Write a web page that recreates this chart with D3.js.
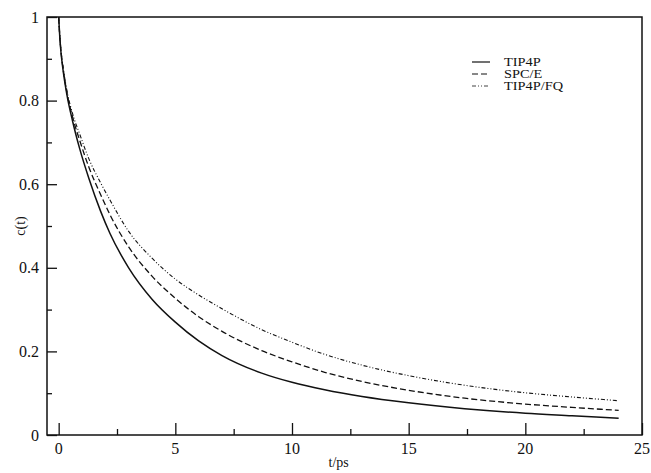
<!DOCTYPE html>
<html>
<head>
<meta charset="utf-8">
<script src="https://cdn.jsdelivr.net/npm/d3@7"></script>
<style>
  body { margin: 0; background: #fff; }
  svg { display: block; }
  text { font-family: "Liberation Serif", "DejaVu Serif", serif; fill: #111; }
</style>
</head>
<body>
<script>
// basic setup
const width = 651;
const height = 473;
const marginTop = 17;
const marginBottom = 38;
const marginLeft = 47;
const marginRight = 9;

// time axis (ps) shared by all curves
const times = [0, 0.05, 0.1, 0.2, 0.35, 0.6, 0.9, 1.3, 1.8, 2.2, 3, 4, 5, 6, 7, 8.7, 10, 11.4, 13, 15, 17.4, 20, 22, 24];

const tip4p = [1, 0.95, 0.915, 0.868, 0.815, 0.75, 0.685, 0.613, 0.535, 0.482, 0.40, 0.325, 0.27, 0.225, 0.19, 0.148, 0.126, 0.108, 0.092, 0.077, 0.063, 0.052, 0.046, 0.040];
const spce = [1, 0.952, 0.918, 0.872, 0.82, 0.76, 0.705, 0.64, 0.575, 0.527, 0.45, 0.38, 0.327, 0.283, 0.248, 0.202, 0.175, 0.15, 0.128, 0.107, 0.088, 0.074, 0.066, 0.059];
const tip4pfq = [1, 0.953, 0.92, 0.876, 0.825, 0.768, 0.72, 0.66, 0.603, 0.562, 0.487, 0.423, 0.373, 0.335, 0.302, 0.252, 0.222, 0.193, 0.167, 0.142, 0.119, 0.101, 0.091, 0.082];

const seriesNames = ['TIP4P', 'SPC/E', 'TIP4P/FQ'];
const seriesValues = [tip4p, spce, tip4pfq];
const dashes = [null, '6,3', '4,2,1,2,1,2'];
const widths = [1.5, 1.3, 1.1];

const xTicks = [0, 5, 10, 15, 20, 25];
const xMinor = [2.5, 7.5, 12.5, 17.5, 22.5];
const yTicks = [0, 0.2, 0.4, 0.6, 0.8, 1];
const yMinor = [0.1, 0.3, 0.5, 0.7, 0.9];

const svg = d3.select('body')
  .append('svg')
  .attr('width', width)
  .attr('height', height);

const x = d3.scaleLinear()
  .domain([-0.5, 25])
  .range([marginLeft, width - marginRight]);

const y = d3.scaleLinear()
  .domain([0, 1])
  .range([height - marginBottom, marginTop]);

// frame
svg.append('rect')
  .attr('x', marginLeft)
  .attr('y', marginTop)
  .attr('width', width - marginRight - marginLeft)
  .attr('height', height - marginBottom - marginTop)
  .attr('fill', 'none')
  .attr('stroke', '#111')
  .attr('stroke-width', 1.5);

// x axis (ticks point inward)
const xAxis = svg.append('g')
  .attr('transform', `translate(0,${height - marginBottom})`);
xAxis.call(d3.axisTop(x).tickValues(xTicks).tickSize(12).tickFormat(''))
  .call(g => g.select('.domain').remove());
xAxis.append('g')
  .call(d3.axisTop(x).tickValues(xMinor).tickSize(6).tickFormat(''))
  .call(g => g.select('.domain').remove());
xAxis.selectAll('line').attr('stroke', '#111').attr('stroke-width', 1.3);
xAxis.selectAll('.xlab')
  .data(xTicks)
  .enter().append('text')
  .attr('class', 'xlab')
  .attr('x', d => x(d))
  .attr('y', 19)
  .attr('text-anchor', 'middle')
  .attr('font-size', 16)
  .text(d => d);

// y axis
const yAxis = svg.append('g')
  .attr('transform', `translate(${marginLeft},0)`);
yAxis.call(d3.axisRight(y).tickValues(yTicks).tickSize(10).tickFormat(''))
  .call(g => g.select('.domain').remove());
yAxis.append('g')
  .call(d3.axisRight(y).tickValues(yMinor).tickSize(5).tickFormat(''))
  .call(g => g.select('.domain').remove());
yAxis.selectAll('line').attr('stroke', '#111').attr('stroke-width', 1.3);
yAxis.selectAll('.ylab')
  .data(yTicks)
  .enter().append('text')
  .attr('class', 'ylab')
  .attr('x', -8)
  .attr('y', d => y(d))
  .attr('dy', '0.35em')
  .attr('text-anchor', 'end')
  .attr('font-size', 16)
  .text(d => d);

// axis titles
svg.append('text')
  .attr('x', x(12))
  .attr('y', height - 6)
  .attr('text-anchor', 'middle')
  .attr('font-size', 14)
  .text('t/ps');

svg.append('text')
  .attr('transform', `translate(25,${y(0.5)}) rotate(-90)`)
  .attr('text-anchor', 'middle')
  .attr('font-size', 14)
  .text('c(t)');

// curves
const line = d3.line()
  .x(d => x(d[0]))
  .y(d => y(d[1]))
  .curve(d3.curveMonotoneX);

seriesValues.forEach((vals, i) => {
  svg.append('path')
    .datum(times.map((t, k) => [t, vals[k]]))
    .attr('d', line)
    .attr('fill', 'none')
    .attr('stroke', '#111')
    .attr('stroke-width', widths[i])
    .attr('stroke-dasharray', dashes[i]);
});

// legend
const legend = svg.append('g')
  .attr('transform', 'translate(472,62)');
seriesNames.forEach((name, i) => {
  const row = legend.append('g').attr('transform', `translate(0,${i * 12})`);
  row.append('line')
    .attr('x1', 0).attr('x2', 18)
    .attr('stroke', '#111')
    .attr('stroke-width', widths[i] - 0.3)
    .attr('stroke-dasharray', dashes[i]);
  row.append('text')
    .attr('transform', 'translate(32,0) scale(1.25,1)')
    .attr('dy', '0.35em')
    .attr('font-size', 11.5)
    .text(name);
});
</script>
</body>
</html>
